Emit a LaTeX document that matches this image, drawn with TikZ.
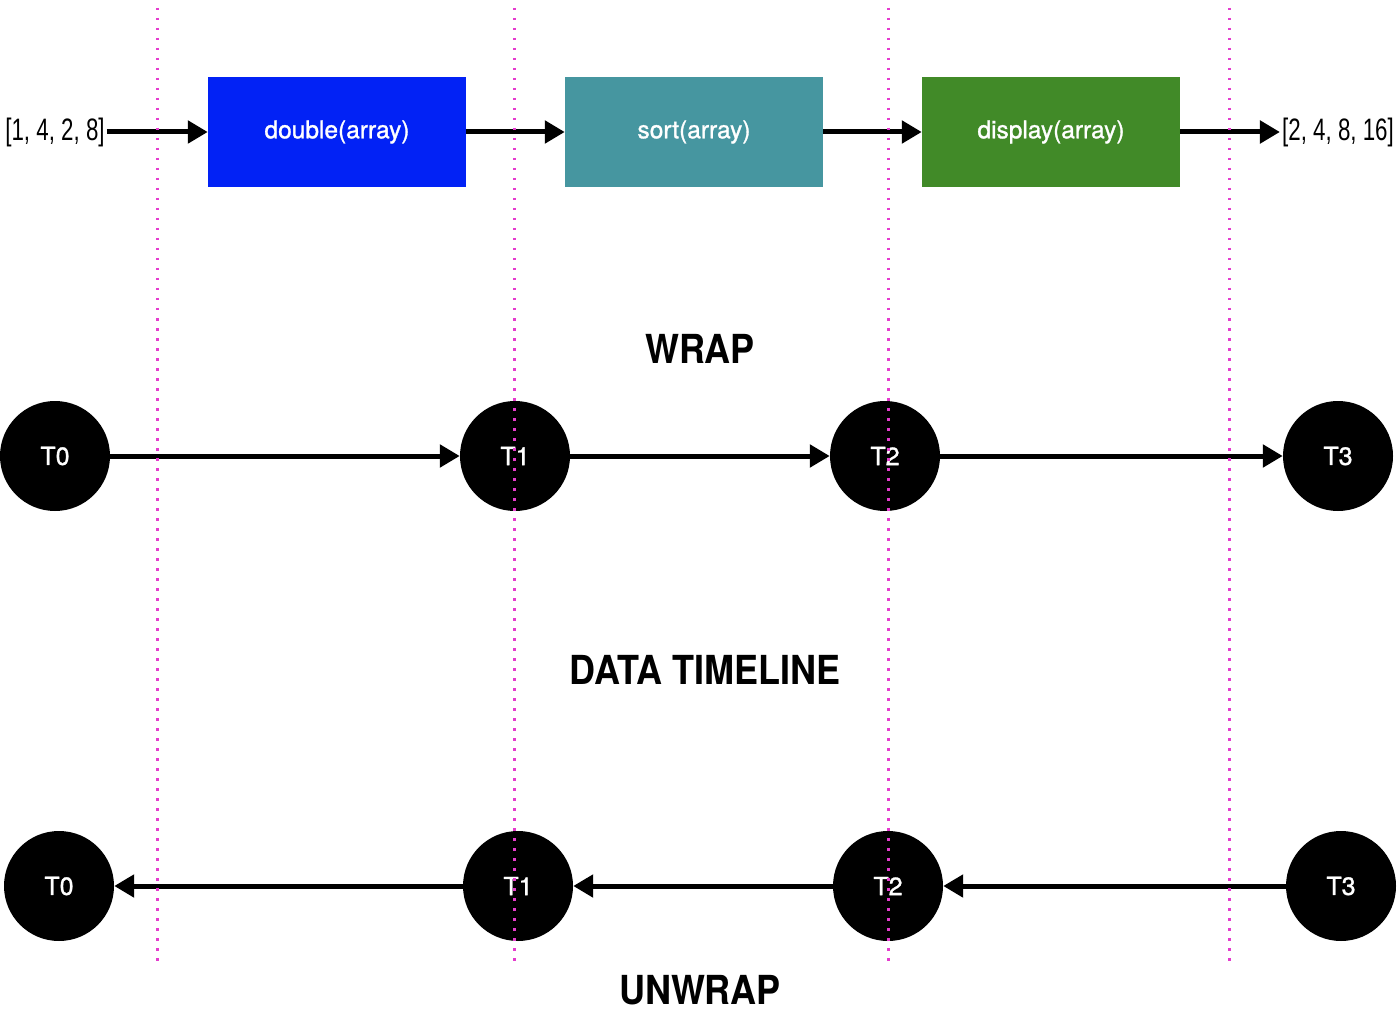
\documentclass[tikz,border=0pt]{standalone}
\usepackage{fontspec}
\setmainfont{TeX Gyre Heros}
\newfontfamily\narrowfont{Liberation Sans}[FakeStretch=0.72]
\newfontfamily\titlefont{TeX Gyre Heros}[FakeStretch=0.9]
\newfontfamily\labelfont{TeX Gyre Heros}[FakeBold=1.2]
\usetikzlibrary{arrows.meta}
\definecolor{boxblue}{RGB}{2,34,245}
\definecolor{boxteal}{RGB}{70,150,160}
\definecolor{boxgreen}{RGB}{65,138,40}
\definecolor{guide}{RGB}{228,60,205}

\begin{document}
\begin{tikzpicture}[x=1pt,y=-1pt,
  fnbox/.style={draw=none,minimum width=258pt,minimum height=110pt,inner sep=0pt,
    text=white,font=\labelfont\fontsize{24.5}{26}\selectfont},
  arr/.style={text=black,font=\narrowfont\fontsize{31}{33}\selectfont,inner sep=2pt},
  tnode/.style={circle,fill=black,minimum size=110pt,inner sep=0pt,
    text=white,font=\labelfont\fontsize{25}{27}\selectfont},
  title/.style={font=\titlefont\bfseries\fontsize{40}{42}\selectfont},
  link/.style={line width=5pt,-{Triangle[length=20pt,width=22pt]}}]
\useasboundingbox (0,0) rectangle (1400,1024);
\fill[white] (0,0) rectangle (1400,1024);
% pipeline
\node[arr] (in) at (55,132) {[1, 4, 2, 8]};
\node[fnbox,fill=boxblue] (double) at (337,132) {double(array)};
\node[fnbox,fill=boxteal] (sort) at (694,132) {sort(array)};
\node[fnbox,fill=boxgreen] (display) at (1051,132) {display(array)};
\node[arr] (out) at (1338,132) {[2, 4, 8, 16]};
\draw[link] (in.east) -- (double.west);
\draw[link] (double.east) -- (sort.west);
\draw[link] (sort.east) -- (display.west);
\draw[link] (display.east) -- (out.west);
% titles
\node[title] (wrap) at (700,349) {WRAP};
\node[title] (timeline) at (705,670) {DATA TIMELINE};
\node[title] (unwrap) at (700,990) {UNWRAP};
% wrap row
\node[tnode] (w0) at (55,456) {T0};
\node[tnode] (w1) at (515,456) {T1};
\node[tnode] (w2) at (885,456) {T2};
\node[tnode] (w3) at (1338,456) {T3};
\draw[link] (w0) -- (w1);
\draw[link] (w1) -- (w2);
\draw[link] (w2) -- (w3);
% unwrap row
\node[tnode] (u0) at (59,886) {T0};
\node[tnode] (u1) at (518,886) {T1};
\node[tnode] (u2) at (888,886) {T2};
\node[tnode] (u3) at (1341,886) {T3};
\draw[link] (u3) -- (u2);
\draw[link] (u2) -- (u1);
\draw[link] (u1) -- (u0);
% guides
\foreach \gx in {157,514,888,1229}
  \draw[guide,line width=3pt,dash pattern=on 2.5pt off 7.5pt] (\gx,8) -- (\gx,965);
\end{tikzpicture}
\end{document}
